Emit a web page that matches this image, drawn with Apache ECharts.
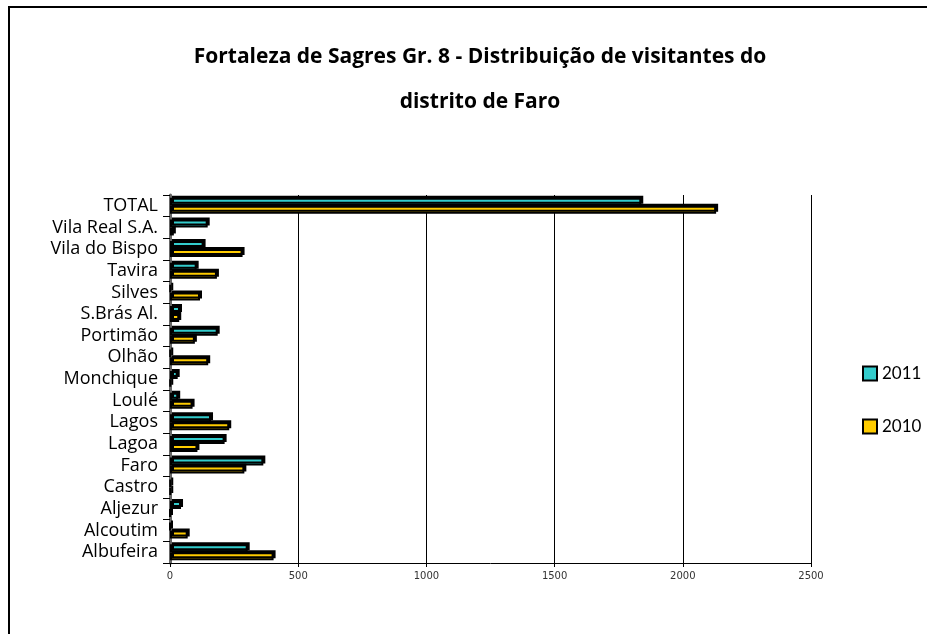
<!DOCTYPE html>
<html>
<head>
<meta charset="utf-8">
<script src="https://cdn.jsdelivr.net/npm/echarts@6/dist/echarts.min.js"></script>
<style>
  html, body { margin: 0; padding: 0; background: #fff; }
  #main { width: 927px; height: 634px; }
</style>
</head>
<body>
<div id="main"></div>
<script>
// categories from bottom to top (category axis starts at the bottom)
var distritos = ['Albufeira', 'Alcoutim', 'Aljezur', 'Castro', 'Faro', 'Lagoa', 'Lagos', 'Loulé',
  'Monchique', 'Olhão', 'Portimão', 'S.Brás Al.', 'Silves', 'Tavira', 'Vila do Bispo', 'Vila Real S.A.', 'TOTAL'];
var visitantes2011 = [303, 0, 43, 2, 364, 213, 160, 32, 30, 2, 186, 39, 2, 104, 131, 147, 1838];
var visitantes2010 = [404, 69, 0, 2, 290, 107, 231, 88, 2, 149, 97, 36, 117, 183, 283, 15, 2130];
var xTicks = [0, 500, 1000, 1500, 2000, 2500];

var myChart = echarts.init(document.getElementById('main'));

var barStyle = function (color) {
  return {
    color: color,
    borderColor: '#000',
    borderWidth: 2,
    shadowColor: '#000',
    shadowBlur: 0,
    shadowOffsetX: 2,
    shadowOffsetY: -2
  };
};

var option = {
  backgroundColor: '#fff',
  animation: false,
  title: {
    text: 'Fortaleza de Sagres Gr. 8 - Distribuição de visitantes do\ndistrito de Faro',
    left: 475,
    textAlign: 'center',
    top: 30,
    textStyle: {
      color: '#000',
      fontSize: 21,
      fontWeight: 'bold',
      fontFamily: 'Open Sans',
      lineHeight: 45
    }
  },
  graphic: [{
    type: 'rect',
    shape: { x: 9, y: 7, width: 960, height: 700 },
    style: { fill: 'none', stroke: '#000', lineWidth: 2 },
    silent: true
  }],
  legend: {
    orient: 'vertical',
    left: 857,
    top: 360,
    itemGap: 36,
    itemWidth: 14,
    itemHeight: 14,
    icon: 'rect',
    data: ['2011', '2010'],
    textStyle: { fontSize: 17, color: '#000', fontFamily: 'Lato' }
  },
  grid: {
    left: 170,
    right: 116,
    top: 195,
    bottom: 71,
    containLabel: false
  },
  xAxis: {
    type: 'value',
    min: xTicks[0],
    max: xTicks[xTicks.length - 1],
    interval: 500,
    axisLine: { show: true, lineStyle: { color: '#000', width: 1 } },
    axisTick: { show: true, length: 4, lineStyle: { color: '#000' } },
    axisLabel: {
      color: '#333', fontSize: 10, fontFamily: 'DejaVu Sans', margin: 8,
      formatter: function (v) { return String(v); }
    },
    splitLine: { show: true, lineStyle: { color: '#000', width: 1 } }
  },
  yAxis: {
    type: 'category',
    data: distritos,
    axisLine: { show: true, lineStyle: { color: '#666', width: 3 } },
    axisTick: { show: true, length: 7, lineStyle: { color: '#000' } },
    axisLabel: { color: '#000', fontSize: 18, fontFamily: 'Open Sans', margin: 12, interval: 0, lineHeight: 20 }
  },
  series: [
    {
      name: '2011',
      type: 'bar',
      data: visitantes2011,
      barWidth: 8,
      barGap: '0%',
      itemStyle: barStyle('#33CCCC')
    },
    {
      name: '2010',
      type: 'bar',
      data: visitantes2010,
      barWidth: 8,
      barGap: '0%',
      itemStyle: barStyle('#FFCC00')
    }
  ]
};

myChart.setOption(option);
</script>
</body>
</html>
